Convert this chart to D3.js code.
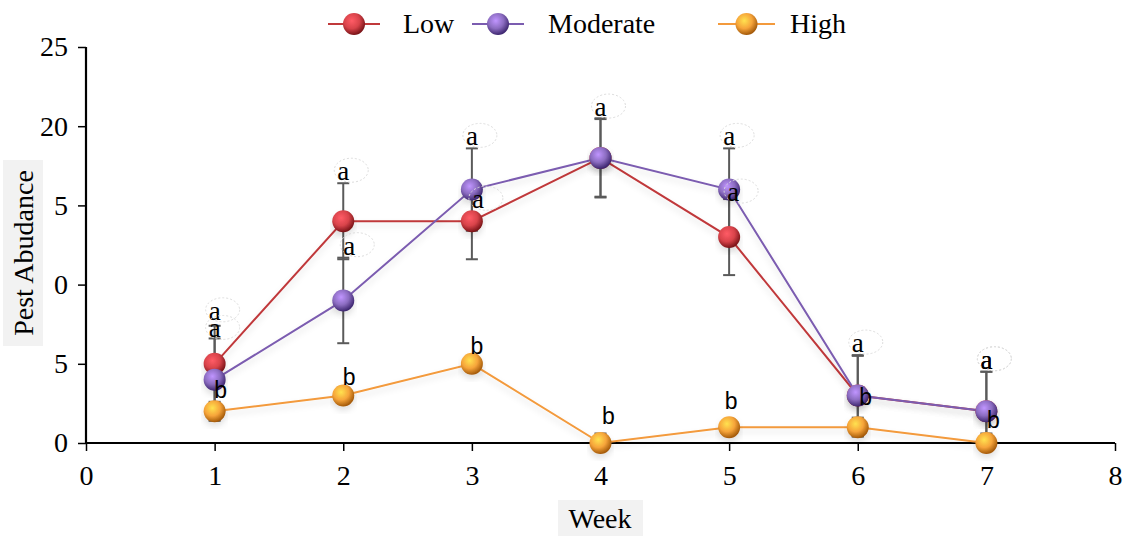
<!DOCTYPE html>
<html>
<head>
<meta charset="utf-8">
<script src="https://cdn.jsdelivr.net/npm/d3@7"></script>
<style>
  body { margin: 0; background: #fff; }
  svg { display: block; }
  .tick text { font-family: "Liberation Serif", "Times New Roman", serif; font-size: 28px; fill: #000; }
</style>
</head>
<body>
<div id="chart"></div>
<script>
// weeks and tick labels
var weeks = [1, 2, 3, 4, 5, 6, 7];
var xTicks = [0, 1, 2, 3, 4, 5, 6, 7, 8];
var yTicks = [0, 5, 10, 15, 20, 25];
var yTickLabels = ["0", "5", "0", "5", "20", "25"]; // as printed (first digit clipped)

// series values
var low = [5, 14, 14, 18, 13, 3, 2];
var moderate = [4, 9, 16, 18, 16, 3, 2];
var high = [2, 3, 5, 0, 1, 1, 0];

// error bar half-widths
var lowErr = [2.4, 2.4, 2.4, 2.5, 2.4, 2.5, 2.5];
var moderateErr = [2.6, 2.7, 2.6, 2.45, 2.6, 2.55, 2.5];
var highErr = [0.5, 0.5, 0.5, 0.6, 0.5, 0.6, 0.6];

// significance letters (one letter shown where two coincide)
var lowLetters = ["a", "a", "a", "", "a", "", "a"];
var moderateLetters = ["a", "a", "a", "a", "a", "a", "a"];
var highLetters = ["b", "b", "b", "b", "b", "b", "b"];

var series = [
  {name: "Low", values: low, err: lowErr, letters: lowLetters, line: "#c0393b", base: "#d8434a", dark: "#7a1418"},
  {name: "Moderate", values: moderate, err: moderateErr, letters: moderateLetters, line: "#7b5cb0", base: "#8b6cc0", dark: "#3e2770"},
  {name: "High", values: high, err: highErr, letters: highLetters, line: "#f39a3c", base: "#f6a43a", dark: "#a45a0a"}
];

var width = 1129,
    height = 536,
    margin = {top: 47, right: 14, bottom: 93, left: 86};

var x = d3.scaleLinear().domain([0, 8]).range([margin.left, width - margin.right]);
var y = d3.scaleLinear().domain([0, 25]).range([height - margin.bottom, margin.top]);

var svg = d3.select("#chart").append("svg")
    .attr("width", width)
    .attr("height", height);

var defs = svg.append("defs");

series.forEach(function(s, i) {
  var g = defs.append("radialGradient")
      .attr("id", "ball" + i)
      .attr("cx", "40%").attr("cy", "35%").attr("r", "65%");
  g.append("stop").attr("offset", "0%").attr("stop-color", d3.color(s.base).brighter(0.9));
  g.append("stop").attr("offset", "55%").attr("stop-color", s.base);
  g.append("stop").attr("offset", "100%").attr("stop-color", s.dark);
});

var shadow = defs.append("filter").attr("id", "shadow")
    .attr("x", "-10%").attr("y", "-10%").attr("width", "120%").attr("height", "140%");
shadow.append("feDropShadow")
    .attr("dx", 0).attr("dy", 4).attr("stdDeviation", 3)
    .attr("flood-color", "#000").attr("flood-opacity", 0.12);

// axis title backgrounds
svg.append("rect")
    .attr("x", 3).attr("y", 160).attr("width", 40).attr("height", 186)
    .attr("fill", "#f2f2f2");
svg.append("text")
    .attr("transform", "translate(33," + 253 + ") rotate(-90)")
    .attr("text-anchor", "middle")
    .style("font-family", "Liberation Serif, serif")
    .style("font-size", "28px")
    .text("Pest Abudance");

svg.append("rect")
    .attr("x", 558).attr("y", 500).attr("width", 85).attr("height", 36)
    .attr("fill", "#f2f2f2");
svg.append("text")
    .attr("x", 600).attr("y", 528)
    .attr("text-anchor", "middle")
    .style("font-family", "Liberation Serif, serif")
    .style("font-size", "28px")
    .text("Week");

// axes
var xAxis = svg.append("g")
    .attr("transform", "translate(0," + y(0) + ")")
    .call(d3.axisBottom(x).tickValues(xTicks).tickSize(8).tickPadding(14).tickFormat(d3.format("d")));
var yAxis = svg.append("g")
    .attr("transform", "translate(" + x(0) + ",0)")
    .call(d3.axisLeft(y).tickValues(yTicks).tickSize(8).tickPadding(10)
      .tickFormat(function(d, i) { return yTickLabels[i]; }));
[xAxis, yAxis].forEach(function(a) {
  a.select(".domain").attr("stroke", "#000").attr("stroke-width", 2.2);
  a.selectAll(".tick line").attr("stroke", "#000").attr("stroke-width", 1.5);
});
xAxis.selectAll(".domain").attr("d", "M" + x(0) + ",0H" + x(8));
yAxis.selectAll(".domain").attr("d", "M0," + y(25) + "V" + y(0));

// lines
var line = d3.line()
    .x(function(d, i) { return x(weeks[i]); })
    .y(function(d) { return y(d); });

var plot = svg.append("g");

series.forEach(function(s) {
  plot.append("path")
      .datum(s.values)
      .attr("fill", "none")
      .attr("stroke", s.line)
      .attr("stroke-width", 2)
      .attr("filter", "url(#shadow)")
      .attr("d", line);
});

// error bars
series.forEach(function(s) {
  var eb = plot.append("g").selectAll("g")
      .data(s.values)
    .enter().append("g");
  eb.append("line")
      .attr("x1", function(d, i) { return x(weeks[i]); })
      .attr("x2", function(d, i) { return x(weeks[i]); })
      .attr("y1", function(d, i) { return y(Math.max(0, d - s.err[i])); })
      .attr("y2", function(d, i) { return y(d + s.err[i]); })
      .attr("stroke", "#5a5a5a").attr("stroke-width", 2);
  eb.append("line")
      .attr("x1", function(d, i) { return x(weeks[i]) - 6; })
      .attr("x2", function(d, i) { return x(weeks[i]) + 6; })
      .attr("y1", function(d, i) { return y(d + s.err[i]); })
      .attr("y2", function(d, i) { return y(d + s.err[i]); })
      .attr("stroke", "#5a5a5a").attr("stroke-width", 2);
  eb.append("line")
      .attr("x1", function(d, i) { return x(weeks[i]) - 6; })
      .attr("x2", function(d, i) { return x(weeks[i]) + 6; })
      .attr("y1", function(d, i) { return y(Math.max(0, d - s.err[i])); })
      .attr("y2", function(d, i) { return y(Math.max(0, d - s.err[i])); })
      .attr("stroke", "#5a5a5a").attr("stroke-width", 2);
});

// markers
series.forEach(function(s, k) {
  plot.append("g").selectAll("circle")
      .data(s.values)
    .enter().append("circle")
      .attr("cx", function(d, i) { return x(weeks[i]); })
      .attr("cy", function(d) { return y(d); })
      .attr("r", 11)
      .attr("fill", "url(#ball" + k + ")")
      .attr("filter", "url(#shadow)");
});

// letter callouts
var letterG = svg.append("g");
series.forEach(function(s, k) {
  var grp = letterG.append("g").selectAll("g")
      .data(s.values)
    .enter().append("g")
      .attr("transform", function(d, i) {
        var top = y(d + s.err[i]) - 3, dx = 0;
        if (k === 0 && i === 0) top -= 3;
        if (k === 1 && i === 0) top += 2;
        if (k === 1 && i === 1) dx = 6;
        if (k === 0 && i === 2) { top = y(d) - 13; dx = 6; }
        if (k === 0 && i === 4) { top = y(d) - 36; dx = 4; }
        if (k === 2) {
          var up = [22, 19, 19, 28, 27, 31, 24][i];
          top = y(d) - up + 9;
          dx = [6, 6, 5, 8, 2, 8, 7][i];
        }
        return "translate(" + (x(weeks[i]) + dx) + "," + top + ")";
      });
  grp.filter(function(d, i) { return k !== 2 && s.letters[i]; }).append("ellipse")
      .attr("cx", 8).attr("cy", -10).attr("rx", 17).attr("ry", 12)
      .attr("fill", "none").attr("stroke", "#ddd").attr("stroke-dasharray", "2,2");
  grp.append("text")
      .attr("text-anchor", "middle")
      .style("font-family", k === 2 ? "Liberation Sans, Arial, sans-serif" : "Liberation Serif, serif")
      .style("font-size", k === 2 ? "23px" : "27px")
      .text(function(d, i) { return s.letters[i]; });
});

// legend
var legendX = [328, 472, 718];
var legendText = [403, 548, 790];
var legend = svg.append("g");
series.forEach(function(s, k) {
  var lg = legend.append("g");
  var x0 = legendX[k], x1 = k === 2 ? x0 + 57 : x0 + 52;
  lg.append("line").attr("x1", x0).attr("x2", x1).attr("y1", 24).attr("y2", 24)
      .attr("stroke", s.line).attr("stroke-width", 2);
  lg.append("circle").attr("cx", (x0 + x1) / 2).attr("cy", 24).attr("r", 11)
      .attr("fill", "url(#ball" + k + ")");
  lg.append("text").attr("x", legendText[k]).attr("y", 33)
      .style("font-family", "Liberation Serif, serif")
      .style("font-size", "28px")
      .text(s.name);
});
</script>
</body>
</html>
